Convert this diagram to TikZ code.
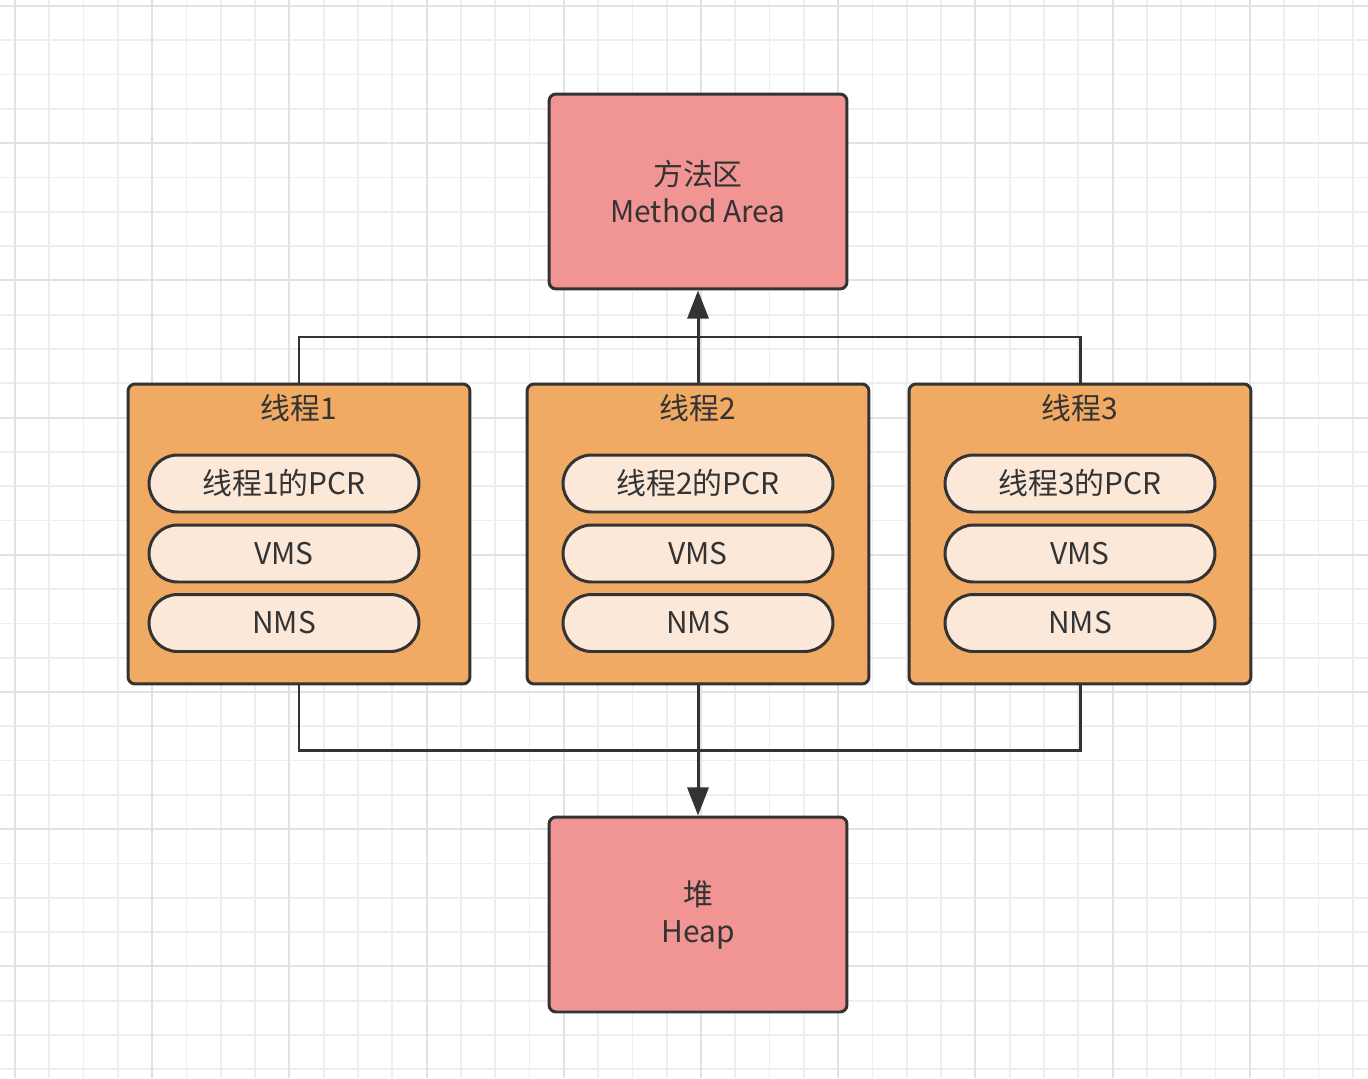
\documentclass[tikz,border=0pt]{standalone}
\usepackage{fontspec}
\setmainfont{Noto Sans CJK SC}
\usetikzlibrary{arrows.meta,positioning}

\definecolor{gridminor}{RGB}{238,238,238}
\definecolor{gridmajor}{RGB}{226,226,226}
\definecolor{edgegrey}{RGB}{51,51,51}
\definecolor{areapink}{RGB}{241,148,148}
\definecolor{threadorange}{RGB}{240,170,100}
\definecolor{pillcream}{RGB}{252,232,216}

\tikzset{
  area/.style={draw=edgegrey, line width=1.7pt, fill=areapink, rounded corners=4pt,
    minimum width=5.96cm, minimum height=3.9cm, align=center, text=edgegrey,
    font=\fontsize{17}{21}\selectfont},
  thread/.style={draw=edgegrey, line width=1.7pt, fill=threadorange, rounded corners=4pt,
    minimum width=6.84cm, minimum height=6cm},
  pill/.style={draw=edgegrey, line width=1.7pt, fill=pillcream, rounded corners=0.57cm,
    minimum width=5.4cm, minimum height=1.14cm, text=edgegrey,
    font=\fontsize{17}{21}\selectfont},
  title/.style={text=edgegrey, font=\fontsize{17}{21}\selectfont},
  bus/.style={draw=edgegrey, line width=1.7pt},
  feed/.style={bus, -{Triangle[width=12pt, length=16pt]}}
}

\begin{document}
\begin{tikzpicture}[x=0.02cm, y=-0.02cm]

	% background and grid
	\fill[white] (0,0) rectangle (1368,1078);
	\useasboundingbox (0,0) rectangle (1368,1078);
	\foreach \i in {0,...,39} {
	  \draw[gridminor, line width=1pt] ({15+34.3*(\i-0)},0) -- ({15+34.3*(\i-0)},1078);
	}
	\foreach \j in {0,...,31} {
	  \draw[gridminor, line width=1pt] (0,{6+34.3*\j}) -- (1368,{6+34.3*\j});
	}
	\foreach \i in {0,...,9} {
	  \draw[gridmajor, line width=1.1pt] ({15+137.2*\i},0) -- ({15+137.2*\i},1078);
	}
	\foreach \j in {0,...,7} {
	  \draw[gridmajor, line width=1.1pt] (0,{6+137.2*\j}) -- (1368,{6+137.2*\j});
	}

	% shared areas
	\node[area] (method) at (698,191.5) {方法区\\Method Area};
	\node[area] (heap) at (698,914.5) {堆\\Heap};

	% threads
	\node[thread] (t1) at (299,534) {};
	\node[thread] (t2) at (698,534) {};
	\node[thread] (t3) at (1080,534) {};

	\node[title] (title1) at (299,408) {线程1};
	\node[title] (title2) at (698,408) {线程2};
	\node[title] (title3) at (1080,408) {线程3};

	\node[pill] (pcr1) at (284,483.5) {线程1的PCR};
	\node[pill] (vms1) at (284,553.5) {VMS};
	\node[pill] (nms1) at (284,623) {NMS};

	\node[pill] (pcr2) at (698,483.5) {线程2的PCR};
	\node[pill] (vms2) at (698,553.5) {VMS};
	\node[pill] (nms2) at (698,623) {NMS};

	\node[pill] (pcr3) at (1080,483.5) {线程3的PCR};
	\node[pill] (vms3) at (1080,553.5) {VMS};
	\node[pill] (nms3) at (1080,623) {NMS};

	% connectors
	\coordinate (topbus) at (698,337);
	\coordinate (lowbus) at (698,750);
	\draw[bus] (t1.north) |- (topbus) -| (t3.north);
	\draw[feed] (t2.north) -- (method.south);
	\draw[bus] (t1.south) |- (lowbus) -| (t3.south);
	\draw[feed] (t2.south) -- (heap.north);

\end{tikzpicture}
\end{document}
